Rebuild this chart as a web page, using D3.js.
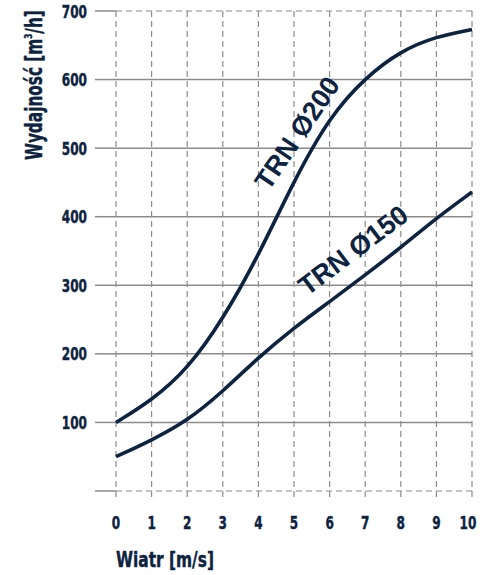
<!DOCTYPE html>
<html>
<head>
<meta charset="utf-8">
<script src="https://cdn.jsdelivr.net/npm/d3@7/dist/d3.min.js"></script>
<style>
	html, body { margin: 0; padding: 0; background: #fff; }
	svg text { fill: #0d2340; font-weight: bold; }
	.tick-label { font-family: 'DejaVu Sans Condensed', 'Liberation Sans Narrow', sans-serif; stroke: #0d2340; stroke-width: 0.4px; }
	.curve-label { font-family: 'Liberation Sans', Arial, sans-serif; }
</style>
</head>
<body>
<svg id="chart" width="485" height="575"></svg>
<script>
'use strict';

// wind speed [m/s]
var wind = [0, 1, 2, 3, 4, 5, 6, 7, 8, 9, 10];
// capacity [m3/h]
var trn200 = [100, 132, 177, 250, 343, 453, 546, 603, 642, 663, 673];
var trn150 = [50, 74, 102, 145, 195, 238, 276, 315, 355, 398, 436];
var yTicks = [100, 200, 300, 400, 500, 600, 700];
var seriesNames = ['TRN Ø200', 'TRN Ø150'];

(function() {
	var navy = '#0d2340';
	var gridColor = '#8c8c8c';
	var digitW = 8.4;

	var x = d3.scaleLinear().domain([0, 10]).range([116, 472]);
	var y = d3.scaleLinear().domain([0, 700]).range([491, 11]);

	var svg = d3.select('svg#chart');

	// vertical dashed grid
	svg.append('g').selectAll('line')
		.data(wind)
		.enter()
		.append('line')
		.attr('x1', function(d) { return x(d); })
		.attr('x2', function(d) { return x(d); })
		.attr('y1', y(700))
		.attr('y2', y(0) + 10)
		.style('stroke', gridColor)
		.style('stroke-width', 1.2)
		.style('stroke-dasharray', '6,4');

	// horizontal grid: solid inside, dashed for the top and bottom line
	var hLines = [0].concat(yTicks);
	var edge = function(d) { return d === 0 || d === 700; };
	svg.append('g').selectAll('line')
		.data(hLines)
		.enter()
		.append('line')
		.attr('x1', x(0))
		.attr('x2', x(10))
		.attr('y1', function(d) { return y(d); })
		.attr('y2', function(d) { return y(d); })
		.style('stroke', gridColor)
		.style('stroke-width', function(d) { return edge(d) ? 1.2 : 1.5; })
		.style('stroke-dasharray', function(d) { return edge(d) ? '6,4' : null; });

	// left stubs
	svg.append('g').selectAll('line')
		.data(hLines)
		.enter()
		.append('line')
		.attr('x1', x(0) - 21)
		.attr('x2', x(0))
		.attr('y1', function(d) { return y(d); })
		.attr('y2', function(d) { return y(d); })
		.style('stroke', gridColor)
		.style('stroke-width', 1.5);

	// tick labels
	svg.append('g').selectAll('text')
		.data(yTicks)
		.enter()
		.append('text')
		.attr('class', 'tick-label')
		.attr('x', 87)
		.attr('y', function(d) { return y(d) + 6.5; })
		.attr('text-anchor', 'end')
		.attr('textLength', function(d) { return String(d).length * digitW; })
		.attr('lengthAdjust', 'spacingAndGlyphs')
		.style('font-size', '17px')
		.text(function(d) { return d; });

	svg.append('g').selectAll('text')
		.data(wind)
		.enter()
		.append('text')
		.attr('class', 'tick-label')
		.attr('x', function(d) { return x(d) - (d === 10 ? 4 : 0); })
		.attr('y', 529)
		.attr('text-anchor', 'middle')
		.attr('textLength', function(d) { return String(d).length * digitW; })
		.attr('lengthAdjust', 'spacingAndGlyphs')
		.style('font-size', '17px')
		.text(function(d) { return d; });

	// axis titles, squeezed with a scale to look condensed
	var xt = svg.append('text')
		.attr('class', 'tick-label')
		.style('font-size', '21px')
		.text('Wiatr [m/s]');
	var xs = 98 / xt.node().getComputedTextLength();
	xt.attr('transform', 'translate(116,567) scale(' + xs + ',1)');

	var yt = svg.append('text')
		.attr('class', 'tick-label')
		.style('font-size', '23px');
	yt.append('tspan').text('Wydajność [m');
	yt.append('tspan').attr('dy', -10).style('font-size', '11px').text('3');
	yt.append('tspan').attr('dy', 10).text('/h]');
	var ys = 150 / yt.node().getComputedTextLength();
	yt.attr('transform', 'translate(42,160) rotate(-90) scale(' + ys + ',1)');

	// curves
	var line = d3.line()
		.x(function(d) { return x(d[0]); })
		.y(function(d) { return y(d[1]); })
		.curve(d3.curveBasis);

	[trn200, trn150].forEach(function(values) {
		svg.append('path')
			.datum(d3.zip(wind, values))
			.attr('d', line)
			.style('fill', 'none')
			.style('stroke', navy)
			.style('stroke-width', 3.6);
	});

	// curve labels
	var labelPos = [
		{ cx: 297, cy: 133, angle: -56 },
		{ cx: 353, cy: 250, angle: -37 }
	];
	svg.append('g').selectAll('text')
		.data(seriesNames)
		.enter()
		.append('text')
		.attr('class', 'curve-label')
		.attr('text-anchor', 'middle')
		.attr('transform', function(d, i) {
			var p = labelPos[i];
			return 'translate(' + p.cx + ',' + p.cy + ') rotate(' + p.angle + ')';
		})
		.attr('dy', '0.35em')
		.style('font-size', '27px')
		.text(function(d) { return d; });
})();
</script>
</body>
</html>
